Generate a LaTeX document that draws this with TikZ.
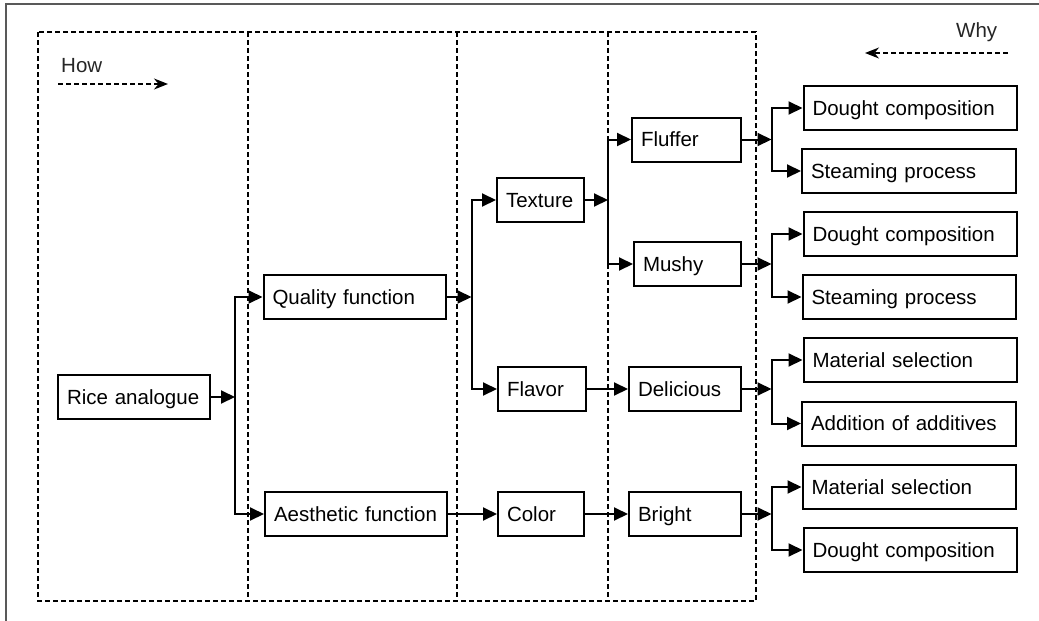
\documentclass[tikz,border=0pt]{standalone}
\usepackage{fontspec}
\setmainfont{Liberation Sans}
\usetikzlibrary{arrows.meta}
\begin{document}
\begin{tikzpicture}[x=1pt,y=-1pt,
  box/.style={draw, line width=2pt, anchor=west, minimum height=44pt, inner xsep=9pt, inner ysep=0pt, align=left, text height=14.7pt, text depth=0pt, font=\fontsize{20.5pt}{24pt}\selectfont},
  arr/.style={line width=2pt, -{Triangle[length=14pt,width=13pt]}},
  sepline/.style={line width=1.6pt, dash pattern=on 5pt off 3pt},
  hw/.style={line width=1.6pt, dash pattern=on 5pt off 3pt, -{Stealth[length=14pt,width=11pt]}},
  lbl/.style={font=\fontsize{20.5pt}{24pt}\selectfont, text=black!85, inner sep=0pt, anchor=base west}]

\useasboundingbox (0,0) rectangle (1039,621);
\fill[white] (0,0) rectangle (1039,621);
% outer frame (partly outside the picture)
\draw[line width=2pt, black!65] (6,621) -- (6,4) -- (1039,4);

% dashed columns
\draw[sepline] (38,32) rectangle (756,601);
\draw[sepline] (248,32) -- (248,601);
\draw[sepline] (457,32) -- (457,601);
\draw[sepline] (608,32) -- (608,601);

% How / Why
\node[lbl] (how) at (61,72) {How};
\node[lbl] (why) at (956,37) {Why};
\coordinate (howS) at (58,84);
\coordinate (howE) at (168,84);
\coordinate (whyS) at (1008,53);
\coordinate (whyE) at (865,53);
\draw[hw] (howS) -- (howE);
\draw[hw] (whyS) -- (whyE);

% nodes
\node[box, text width=134pt] (rice) at (57,397) {Rice analogue};
\node[box, text width=164pt] (quality) at (262.5,297) {Quality function};
\node[box, text width=164pt] (aesthetic) at (264,514) {Aesthetic function};
\node[box, text width=69pt] (texture) at (496,200) {Texture};
\node[box, text width=70pt] (flavor) at (497,389) {Flavor};
\node[box, text width=68pt] (color) at (497,514) {Color};
\node[box, text width=91pt] (fluffer) at (631,139.5) {Fluffer};
\node[box, text width=89pt] (mushy) at (633,264) {Mushy};
\node[box, text width=94pt] (delicious) at (628,389) {Delicious};
\node[box, text width=94pt] (bright) at (628,514) {Bright};
\node[box, text width=195.5pt] (dc1) at (802.5,108) {Dought composition};
\node[box, text width=196pt] (sp1) at (801,171) {Steaming process};
\node[box, text width=195.5pt] (dc2) at (802.5,234) {Dought composition};
\node[box, text width=195.5pt] (sp2) at (801.5,297) {Steaming process};
\node[box, text width=195.5pt] (ms1) at (802.5,360) {Material selection};
\node[box, text width=196pt] (aa) at (801,423.5) {Addition of additives};
\node[box, text width=195.5pt] (ms2) at (801.5,487) {Material selection};
\node[box, text width=195.5pt] (dc3) at (802.5,550) {Dought composition};

% branch x positions
\coordinate (b1) at (235,0);
\coordinate (b2) at (471.5,0);
\coordinate (b3) at (608,0);
\coordinate (b4) at (771.5,0);

% rice -> quality / aesthetic
\draw[arr] (rice.east) -- (rice.east -| b1);
\draw[arr] (rice.east -| b1) |- (quality.west);
\draw[arr] (rice.east -| b1) |- (aesthetic.west);

% quality -> texture / flavor
\draw[arr] (quality.east) -- (quality.east -| b2);
\draw[arr] (quality.east -| b2) |- (texture.west);
\draw[arr] (quality.east -| b2) |- (flavor.west);

% aesthetic -> color -> bright
\draw[arr] (aesthetic.east) -- (color.west |- aesthetic.east);
\draw[arr] (color.east) -- (bright.west |- color.east);

% texture -> fluffer / mushy
\draw[arr] (texture.east) -- (texture.east -| b3);
\draw[arr] (texture.east -| b3) |- (fluffer.west);
\draw[arr] (texture.east -| b3) |- (mushy.west);

% flavor -> delicious
\draw[arr] (flavor.east) -- (delicious.west |- flavor.east);

% fluffer -> dc1 / sp1
\draw[arr] (fluffer.east) -- (fluffer.east -| b4);
\draw[arr] (fluffer.east -| b4) |- (dc1.west);
\draw[arr] (fluffer.east -| b4) |- (sp1.west);

% mushy -> dc2 / sp2
\draw[arr] (mushy.east) -- (mushy.east -| b4);
\draw[arr] (mushy.east -| b4) |- (dc2.west);
\draw[arr] (mushy.east -| b4) |- (sp2.west);

% delicious -> ms1 / aa
\draw[arr] (delicious.east) -- (delicious.east -| b4);
\draw[arr] (delicious.east -| b4) |- (ms1.west);
\draw[arr] (delicious.east -| b4) |- (aa.west);

% bright -> ms2 / dc3
\draw[arr] (bright.east) -- (bright.east -| b4);
\draw[arr] (bright.east -| b4) |- (ms2.west);
\draw[arr] (bright.east -| b4) |- (dc3.west);
\end{tikzpicture}
\end{document}
